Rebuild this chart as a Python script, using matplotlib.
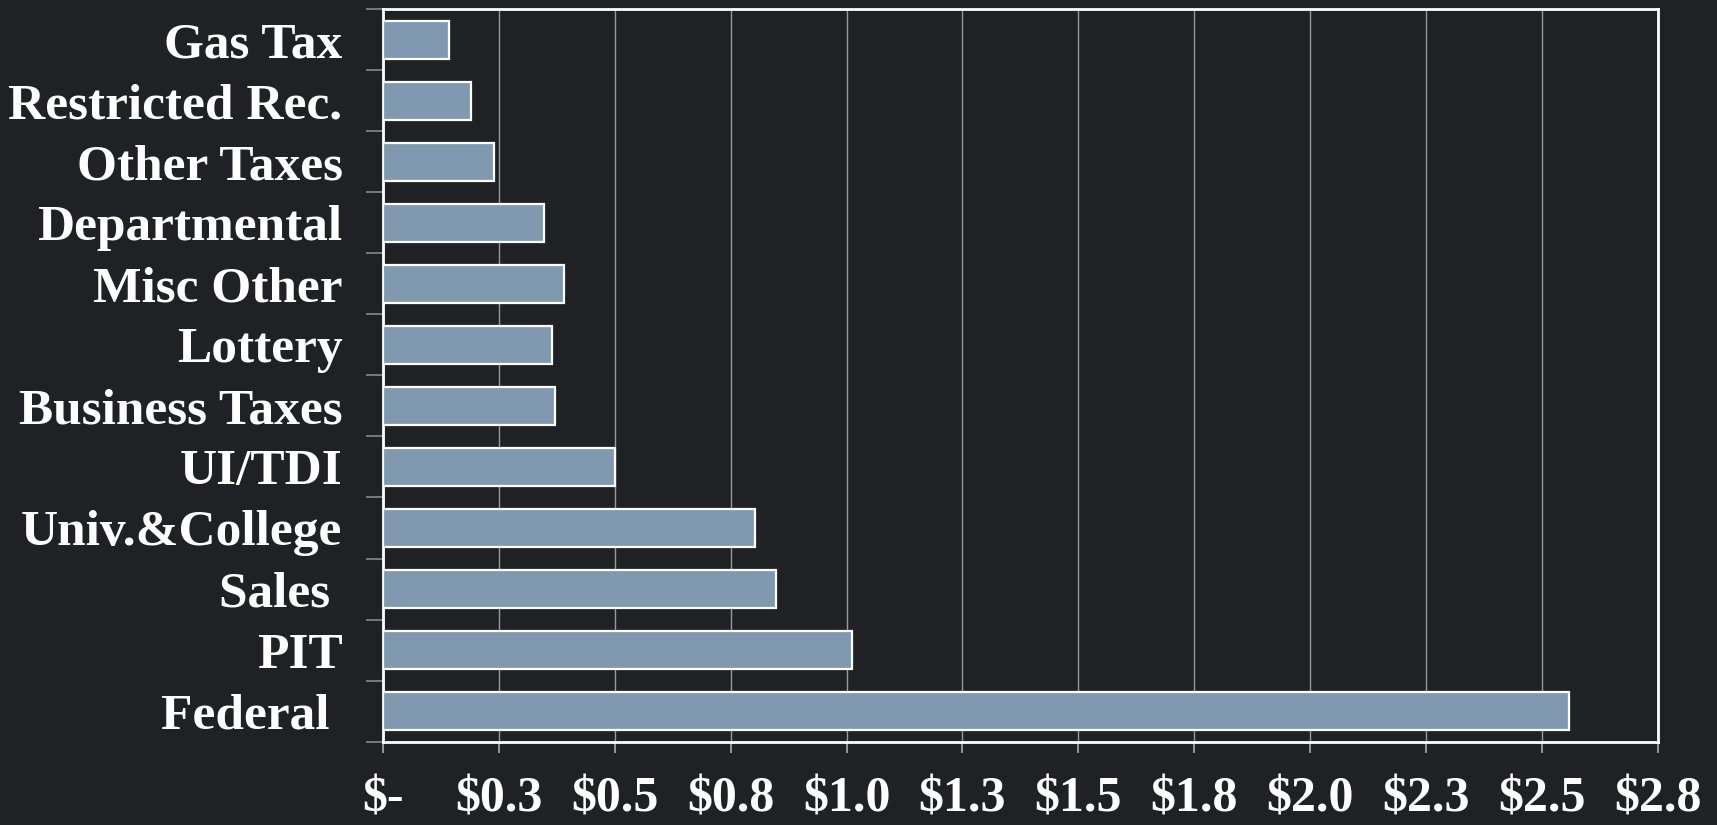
#!/usr/bin/env python3
'''horizontal bar chart of revenue sources'''
import numpy as np
import matplotlib
matplotlib.use('Agg')
import matplotlib.pyplot as plt
from matplotlib.ticker import FuncFormatter, MultipleLocator

categories = ['Gas Tax', 'Restricted Rec.', 'Other Taxes', 'Departmental',
              'Misc Other', 'Lottery', 'Business Taxes', 'UI/TDI',
              'Univ.&College', 'Sales ', 'PIT', 'Federal ']
values = [0.142, 0.191, 0.239, 0.347, 0.390, 0.364, 0.371, 0.501,
          0.803, 0.848, 1.011, 2.559]

bg = '#202124'
plt.rcParams['font.family'] = ['Liberation Serif', 'DejaVu Serif']
plt.rcParams['font.weight'] = 'bold'

fig = plt.figure(figsize=(17.17, 8.25), dpi=100, facecolor=bg)
ax = fig.add_axes([0.223, 0.101, 0.7426, 0.888])
ax.set_facecolor(bg)

y = np.arange(len(categories))
ax.barh(y, values, height=0.62, color='#8199b0', edgecolor='white',
        linewidth=1.6, zorder=3)

ax.set_ylim(len(categories) - 0.5, -0.5)
ax.set_xlim(0, 2.75)

# labels at bar centres, tick marks at the boundaries between bars
ax.set_yticks(y)
ax.set_yticklabels(categories)
ax.set_yticks(np.arange(len(categories) + 1) - 0.5, minor=True)
ax.tick_params(axis='y', which='major', length=0, pad=29,
               labelsize=37, labelcolor='white')
ax.tick_params(axis='y', which='minor', length=12, width=1.2,
               color='#888888')

ax.xaxis.set_major_locator(MultipleLocator(0.25))
ax.xaxis.set_major_formatter(FuncFormatter(
    lambda v, p: '$-' if abs(v) < 1e-9 else f'${v + 1e-9:.1f}'))
ax.tick_params(axis='x', length=8, width=1.2, color='#aaaaaa', pad=17,
               labelsize=36, labelcolor='white')

ax.grid(axis='x', color='#999999', linewidth=1.0, zorder=0)
for s in ax.spines.values():
    s.set_color('white')
    s.set_linewidth(2)

fig.savefig('out.png', facecolor=bg)
